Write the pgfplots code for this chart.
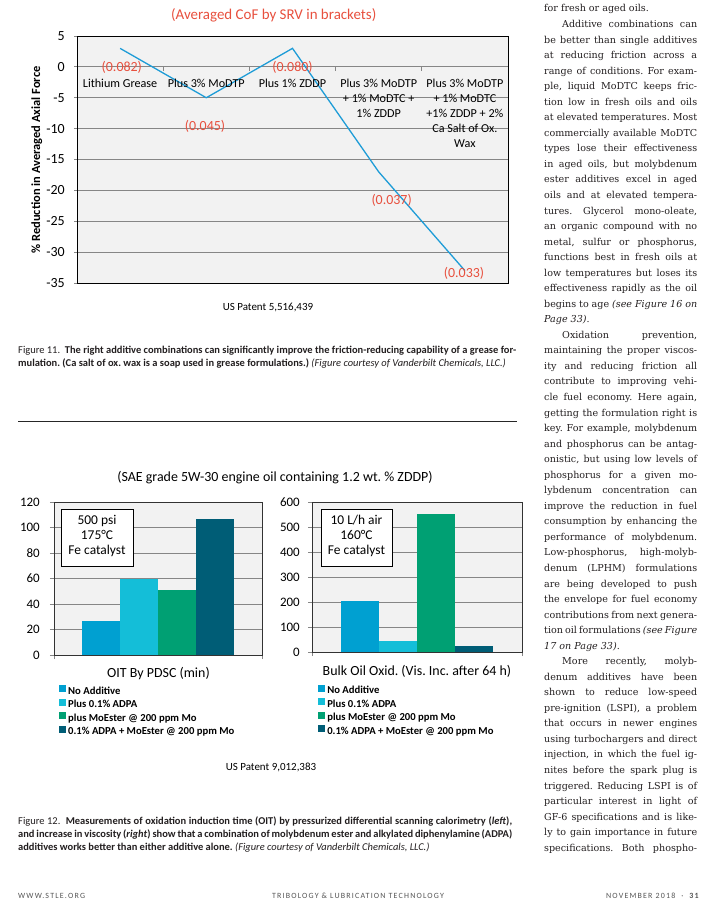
\documentclass[border=0pt]{standalone}
\usepackage{fontspec}
\setmainfont{Carlito}
\newfontfamily\colfont{DejaVu Serif}
\usepackage{pgfplots}
\pgfplotsset{compat=1.18}

\definecolor{redlab}{HTML}{E8503E}
\definecolor{lineblue}{HTML}{1E9CD7}
\definecolor{bggray}{HTML}{F2F2F2}
\definecolor{gridgray}{HTML}{868686}
\definecolor{cA}{HTML}{00A0D1}
\definecolor{cB}{HTML}{14BED8}
\definecolor{cC}{HTML}{00A073}
\definecolor{cD}{HTML}{005D76}
\definecolor{ink}{HTML}{231F20}
\definecolor{foot}{HTML}{555555}

\newcommand\fs[2]{\fontsize{#1}{#2}\selectfont}
\frenchspacing

\pgfplotsset{
  sqleg/.style={legend image code/.code={\fill[#1] (0bp,-0.5bp) rectangle (7bp,6.5bp);}},
  barchart/.style={
    scale only axis, anchor=north west,
    xmin=0, xmax=1, xtick={0,1}, xticklabels={},
    ybar=0pt, bar width=38bp,
    tick align=outside, major tick length=4bp,
    xtick pos=bottom, ytick pos=left,
    tick style={color=gridgray, line width=0.8bp},
    ymajorgrids, grid style={color=gridgray, line width=0.8bp},
    axis line style={draw=black!80, line width=0.8bp},
    axis background/.style={fill=bggray},
    yticklabel style={font=\fs{13}{13}, inner sep=0pt, anchor=east},
    legend cell align=left,
    legend style={draw=none, fill=none, inner sep=0pt, anchor=north west,
      font=\fs{10.7}{10.7}\bfseries, row sep=2bp, /tikz/column sep=2bp,
      nodes={inner sep=0pt, text height=7.5bp, text depth=2.5bp}},
    clip=false,
  },
}

\begin{document}
\begin{tikzpicture}
\fill[white] (0,0) rectangle (719bp,-909bp);
\path[use as bounding box] (0,0) rectangle (719bp,-909bp);

% ---- Figure 11: line chart
\begin{axis}[
  at={(77bp,-36bp)}, anchor=north west,
  scale only axis, width=431bp, height=247bp,
  xmin=0.5, xmax=5.5, ymin=-35, ymax=5,
  xtick=\empty,
  ytick={-35,-30,...,5},
  yticklabels={-35,-30,-25,-20,-15,-10,-5,0,5},
  ytick pos=left, tick align=outside, major tick length=3bp,
  tick style={color=gridgray, line width=0.8bp},
  ymajorgrids, grid style={color=gridgray, line width=0.8bp},
  axis line style={draw=black, line width=0.8bp},
  axis background/.style={fill=bggray},
  yticklabel style={font=\fs{14}{14}, inner sep=0pt, anchor=east, xshift=-9bp},
  clip=false,
]
\addplot[color=lineblue, line width=1.3bp, mark=none]
  coordinates {(1,3) (2,-5) (3,3) (4,-17) (5,-33)};
\pgfplotsinvokeforeach{1.5,2.5,3.5,4.5}{
  \draw[gridgray, line width=0.8bp] (axis cs:#1,0) -- ++(0bp,-4bp);
}
% category names
\node[anchor=north, align=center, inner sep=0pt, yshift=-12bp, font=\fs{12.2}{15}] at (axis cs:1,0) {Lithium Grease};
\node[anchor=north, align=center, inner sep=0pt, yshift=-12bp, font=\fs{12.2}{15}] at (axis cs:2,0) {Plus 3\% MoDTP};
\node[anchor=north, align=center, inner sep=0pt, yshift=-12bp, font=\fs{12.2}{15}] at (axis cs:3,0) {Plus 1\% ZDDP};
\node[anchor=north, align=center, inner sep=0pt, yshift=-12bp, font=\fs{12.2}{15}] at (axis cs:4,0) {Plus 3\% MoDTP\\+ 1\% MoDTC +\\1\% ZDDP};
\node[anchor=north, align=center, inner sep=0pt, yshift=-12bp, font=\fs{12.2}{15}] at (axis cs:5,0) {Plus 3\% MoDTP\\+ 1\% MoDTC\\+1\% ZDDP + 2\%\\Ca Salt of Ox.\\Wax};
% averaged CoF labels
\node[redlab, inner sep=0pt, font=\fs{14}{14}] at (axis cs:1.02,-0.13) {(0.082)};
\node[redlab, inner sep=0pt, font=\fs{14}{14}] at (axis cs:1.985,-9.57) {(0.045)};
\node[redlab, inner sep=0pt, font=\fs{14}{14}] at (axis cs:3.0,-0.13) {(0.080)};
\node[redlab, inner sep=0pt, font=\fs{14}{14}] at (axis cs:4.15,-21.56) {(0.037)};
\node[redlab, inner sep=0pt, font=\fs{14}{14}] at (axis cs:4.99,-33.4) {(0.033)};
\end{axis}

% ---- Figure 12 left: OIT by PDSC
\begin{axis}[barchart,
  at={(54bp,-502bp)}, width=208bp, height=153bp,
  ymin=0, ymax=120, ytick={0,20,...,120},
  yticklabels={0,20,40,60,80,100,120},
  yticklabel style={xshift=-10bp},
  legend style={at={(0.024,-0.196)}},
]
\addplot[fill=cA, draw=none, sqleg=cA] coordinates {(0.5,27)};
\addplot[fill=cB, draw=none, sqleg=cB] coordinates {(0.5,60)};
\addplot[fill=cC, draw=none, sqleg=cC] coordinates {(0.5,51)};
\addplot[fill=cD, draw=none, sqleg=cD] coordinates {(0.5,107)};
\legend{No Additive, Plus 0.1\% ADPA, plus MoEster @ 200 ppm Mo, 0.1\% ADPA + MoEster @ 200 ppm Mo}
\end{axis}

% ---- Figure 12 right: bulk oil oxidation
\begin{axis}[barchart,
  at={(312bp,-502bp)}, width=210bp, height=150bp,
  ymin=0, ymax=600, ytick={0,100,...,600},
  yticklabels={0,100,200,300,400,500,600},
  yticklabel style={xshift=-8bp},
  legend style={at={(0.029,-0.218)}},
]
\addplot[fill=cA, draw=none, sqleg=cA] coordinates {(0.5,204)};
\addplot[fill=cB, draw=none, sqleg=cB] coordinates {(0.5,45)};
\addplot[fill=cC, draw=none, sqleg=cC] coordinates {(0.5,551)};
\addplot[fill=cD, draw=none, sqleg=cD] coordinates {(0.5,25)};
\legend{No Additive, Plus 0.1\% ADPA, plus MoEster @ 200 ppm Mo, 0.1\% ADPA + MoEster @ 200 ppm Mo}
\end{axis}

\begin{scope}[x=1bp, y=-1bp]
% Figure 11 texts
\node[redlab, font=\fs{15}{15}] at (273.7,15) {(Averaged CoF by SRV in brackets)};
\node[rotate=90, font=\fs{12.5}{12.5}\bfseries] at (36.7,160) {\% Reduction in Averaged Axial Force};
\node[font=\fs{11}{11}] at (268,307) {US Patent 5,516,439};
\node[anchor=north west, inner sep=0pt, text width=498bp, align=justify, text=ink, font=\fs{10.5}{12.5}] at (18,346)
  {Figure 11.\ \ \textbf{The right additive combinations can significantly improve the friction-reducing capability of a grease for-\linebreak mulation. (Ca salt of ox. wax is a soap used in grease formulations.)} \textit{(Figure courtesy of Vanderbilt Chemicals, LLC.)}};
\draw[black!85, line width=0.8bp] (18,421) -- (517,421);

% Figure 12 texts
\node[font=\fs{14}{14}] at (275,478) {(SAE grade 5W-30 engine oil containing 1.2 wt. \% ZDDP)};
\draw[black, line width=0.8bp, fill=white] (61,509) rectangle (133,566);
\node[align=center, inner sep=0pt, font=\fs{13.5}{15.3}] at (97,536) {500 psi\\175°C\\Fe catalyst};
\draw[black, line width=0.8bp, fill=white] (321,509) rectangle (392,566);
\node[align=center, inner sep=0pt, font=\fs{13.5}{15.3}] at (356.5,536) {10 L/h air\\160°C\\Fe catalyst};
\node[font=\fs{14}{14}] at (158.5,674) {OIT By PDSC (min)};
\node[font=\fs{14}{14}] at (417,671) {Bulk Oil Oxid. (Vis. Inc. after 64 h)};
\node[font=\fs{11}{11}] at (271,767) {US Patent 9,012,383};
\node[anchor=north west, inner sep=0pt, text width=494bp, align=justify, text=ink, font=\fs{10.5}{12.8}] at (18,817)
  {Figure 12.\ \ \textbf{Measurements of oxidation induction time (OIT) by pressurized differential scanning calorimetry (\textit{left}),\linebreak and increase in viscosity (\textit{right}) show that a combination of molybdenum ester and alkylated diphenylamine (ADPA)\linebreak additives works better than either additive alone.} \textit{(Figure courtesy of Vanderbilt Chemicals, LLC.)}};

% right column text
\node[anchor=north west, inner sep=0pt, text width=153bp, align=justify, text=ink] at (544,4.5) {%
\colfont\fs{9.6}{15.6}\tolerance=10000\hyphenpenalty=10000\exhyphenpenalty=10000\parindent=18bp%
\noindent for fresh or aged oils.\par
Additive combinations can\linebreak be better than single additives\linebreak at reducing friction across a\linebreak range of conditions. For exam-\linebreak ple, liquid MoDTC keeps fric-\linebreak tion low in fresh oils and oils\linebreak at elevated temperatures. Most\linebreak commercially available MoDTC\linebreak types lose their effectiveness\linebreak in aged oils, but molybdenum\linebreak ester additives excel in aged\linebreak oils and at elevated tempera-\linebreak tures. Glycerol mono-oleate,\linebreak an organic compound with no\linebreak metal, sulfur or phosphorus,\linebreak functions best in fresh oils at\linebreak low temperatures but loses its\linebreak effectiveness rapidly as the oil\linebreak begins to age \textit{(see Figure 16 on\linebreak Page 33)}.\par
Oxidation prevention,\linebreak maintaining the proper viscos-\linebreak ity and reducing friction all\linebreak contribute to improving vehi-\linebreak cle fuel economy. Here again,\linebreak getting the formulation right is\linebreak key. For example, molybdenum\linebreak and phosphorus can be antag-\linebreak onistic, but using low levels of\linebreak phosphorus for a given mo-\linebreak lybdenum concentration can\linebreak improve the reduction in fuel\linebreak consumption by enhancing the\linebreak performance of molybdenum.\linebreak Low-phosphorus, high-molyb-\linebreak denum (LPHM) formulations\linebreak are being developed to push\linebreak the envelope for fuel economy\linebreak contributions from next genera-\linebreak tion oil formulations \textit{(see Figure\linebreak 17 on Page 33)}.\par
{\parfillskip=0pt More recently, molyb-\linebreak denum additives have been\linebreak shown to reduce low-speed\linebreak pre-ignition (LSPI), a problem\linebreak that occurs in newer engines\linebreak using turbochargers and direct\linebreak injection, in which the fuel ig-\linebreak nites before the spark plug is\linebreak triggered. Reducing LSPI is of\linebreak particular interest in light of\linebreak GF-6 specifications and is like-\linebreak ly to gain importance in future\linebreak specifications. Both phospho-\par}};

% footer
\node[anchor=west, inner sep=0pt, text=foot, font=\fs{8}{8}\addfontfeatures{LetterSpace=15}] at (18,896) {WWW.STLE.ORG};
\node[inner sep=0pt, text=foot, font=\fs{8}{8}\addfontfeatures{LetterSpace=15}] at (358,896) {TRIBOLOGY \& LUBRICATION TECHNOLOGY};
\node[anchor=east, inner sep=0pt, text=foot, font=\fs{8}{8}\addfontfeatures{LetterSpace=15}] at (700,896) {NOVEMBER 2018\ \ ·\ \ \textbf{31}};
\end{scope}
\end{tikzpicture}
\end{document}
